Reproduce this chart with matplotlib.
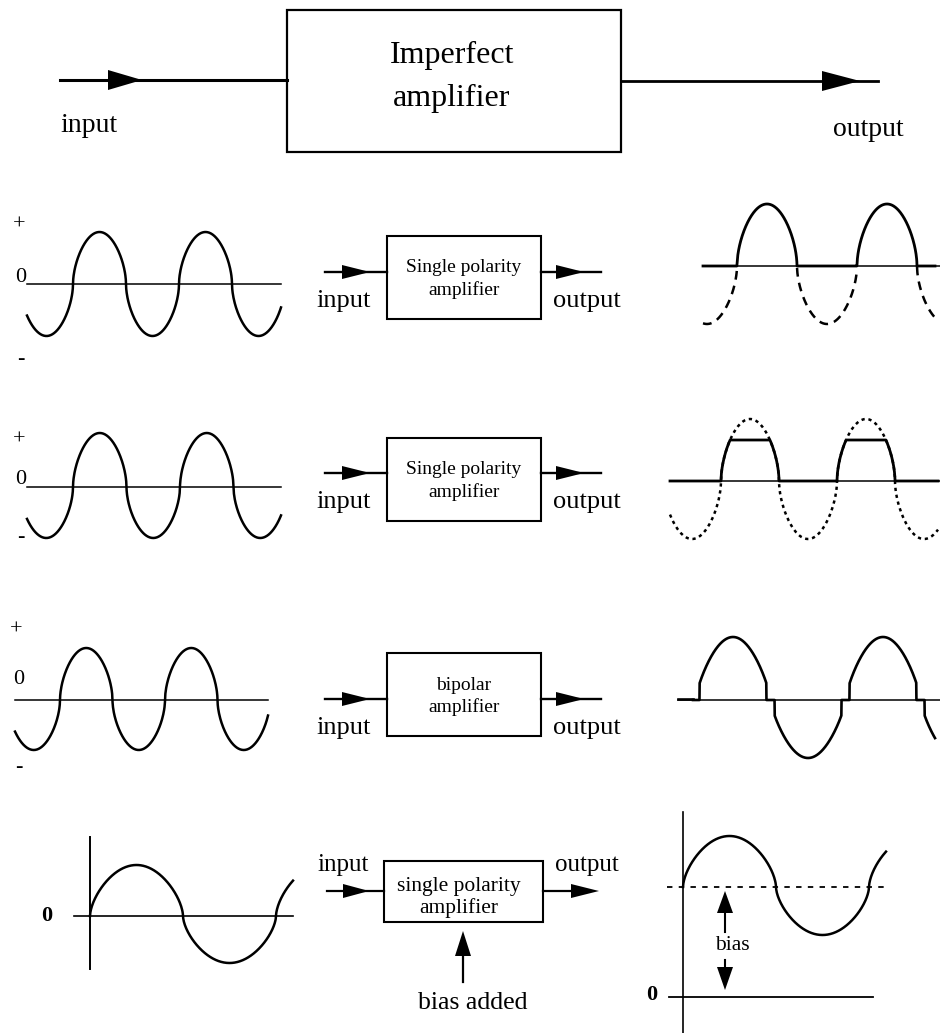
import numpy as np
import matplotlib
matplotlib.use('Agg')
import matplotlib.pyplot as plt
from matplotlib.patches import Rectangle

plt.rcParams['font.family'] = ['Liberation Serif', 'DejaVu Serif']

# ---- wave parameters (pixel units of the picture) ----
# input waves, rows 1-3 (left column)
in_zero = [284, 487, 700]
in_x0 = [27, 27, 15]
in_x1 = [281, 281, 268]
in_up = [73, 73, 60]          # first upward zero crossing
in_period = [106, 107, 105]
in_amp_up = [52, 54, 52]
in_amp_dn = [52, 51, 50]
in_labels = ['+', '0', '-']
in_label_y = [[225, 277, 360], [440, 480, 538], [630, 680, 767]]
in_label_x = [[19, 21, 21], [19, 21, 21], [16, 19, 19]]

# output waves, rows 1-3 (right column)
out_zero = [266, 481, 700]
out_axis = [(703, 940), (670, 940), (678, 940)]
out_x = [(703, 935), (670, 938), (693, 935)]
out_up = [737, 721, 695.5]
out_period = [120, 116, 150]
out_amp_up = [62, 62, 63]
out_amp_dn = [58, 58, 58]
clip_level = 41        # row 2 saturation
dead_zone = 0.17       # row 3 crossover

# boxes in rows 1-3
box_y = [236, 438, 653]
box_h = 83
box_text = [('Single polarity', 'amplifier'), ('Single polarity', 'amplifier'),
            ('bipolar', 'amplifier')]
arrow_y = [272, 473, 699]

# bias row (row 4)
bias_in_zero = 916
bias_out_zero = 887
bias_ground = 997
bias_period = 186
bias_amp = (51, 48)


def wave(x, x_up, period, amp_up, amp_dn, p=0.55):
    s = np.sin(2 * np.pi * (x - x_up) / period)
    v = np.sign(s) * np.abs(s) ** p
    return np.where(v > 0, v * amp_up, v * amp_dn)


def head(ax, tip, base, hw=8):
    tx, ty = tip
    bx, by = base
    dx, dy = tx - bx, ty - by
    n = np.hypot(dx, dy)
    px, py = -dy / n * hw, dx / n * hw
    ax.fill([tx, bx + px, bx - px], [ty, by + py, by - py], color='black', lw=0)


fig = plt.figure(figsize=(9.4, 10.33), dpi=100)
ax = fig.add_axes([0, 0, 1, 1])
ax.set_xlim(0, 940)
ax.set_ylim(1033, 0)
ax.axis('off')

# ---- top block diagram ----
ax.add_patch(Rectangle((287, 10), 334, 142, fill=False, lw=1.6, ec='black'))
ax.text(452, 55, 'Imperfect', fontsize=23, ha='center', va='center')
ax.text(452, 98, 'amplifier', fontsize=23, ha='center', va='center')
ax.plot([60, 287], [80, 80], color='black', lw=2.2)
head(ax, (142, 80), (108, 80), 10)
ax.plot([621, 878], [81, 81], color='black', lw=2.0)
head(ax, (860, 81), (822, 81), 10)
ax.text(60, 125, 'input', fontsize=20, ha='left', va='center')
ax.text(868, 129, 'output', fontsize=20, ha='center', va='center')

# ---- rows 1-3 ----
for i in range(3):
    # input wave
    x = np.linspace(in_x0[i], in_x1[i], 600)
    y = in_zero[i] - wave(x, in_up[i], in_period[i], in_amp_up[i], in_amp_dn[i])
    ax.plot([in_x0[i], in_x1[i]], [in_zero[i], in_zero[i]], color='black', lw=1.1)
    ax.plot(x, y, color='black', lw=1.8)
    for lab, lx, ly in zip(in_labels, in_label_x[i], in_label_y[i]):
        ax.text(lx, ly, lab, fontsize=16, ha='center', va='center')

    # amplifier box
    ax.add_patch(Rectangle((387, box_y[i]), 154, box_h, fill=False, lw=1.5, ec='black'))
    ax.text(464, box_y[i] + 32, box_text[i][0], fontsize=14, ha='center', va='center')
    ax.text(464, box_y[i] + 54, box_text[i][1], fontsize=14, ha='center', va='center')
    ay = arrow_y[i]
    ax.plot([325, 387], [ay, ay], color='black', lw=1.7)
    head(ax, (370, ay), (342, ay), 7)
    ax.plot([541, 601], [ay, ay], color='black', lw=1.7)
    head(ax, (584, ay), (556, ay), 7)
    ax.text(344, ay + 29, 'input', fontsize=19, ha='center', va='center')
    ax.text(587, ay + 29, 'output', fontsize=19, ha='center', va='center')

    # output wave
    z = out_zero[i]
    ax.plot(out_axis[i], [z, z], color='black', lw=1.1)
    x = np.linspace(out_x[i][0], out_x[i][1], 1200)
    if i == 0:
        w = wave(x, out_up[i], out_period[i], out_amp_up[i], out_amp_dn[i])
        ax.plot(x, z - np.where(w <= 0, w, np.nan), color='black', lw=1.8,
                ls=(0, (3.5, 2.5)))
        ax.plot(x, z - np.maximum(w, 0), color='black', lw=2.0)
    elif i == 1:
        w = wave(x, out_up[i], out_period[i], out_amp_up[i], out_amp_dn[i])
        ax.plot(x, z - w, color='black', lw=1.8, ls=(0, (1.3, 1.5)))
        ax.plot(x, z - np.clip(w, 0, clip_level), color='black', lw=2.0)
    else:
        s = np.sin(2 * np.pi * (x - out_up[i]) / out_period[i])
        v = np.where(np.abs(s) > dead_zone, np.sign(s) * np.abs(s) ** 0.75, 0)
        w = np.where(v > 0, v * out_amp_up[i], v * out_amp_dn[i])
        ax.plot(x, z - w, color='black', lw=1.9)
        ax.plot([out_axis[i][0], out_x[i][0]], [z - 1.5, z - 1.5], color='black', lw=1.9)

# ---- row 4: bias ----
x = np.linspace(90, 293, 600)
ax.plot([90, 90], [837, 969], color='black', lw=1.4)
ax.plot([74, 293], [bias_in_zero, bias_in_zero], color='black', lw=1.2)
ax.plot(x, bias_in_zero - wave(x, 90, bias_period, 51, 47, 0.6), color='black', lw=1.8)
ax.text(47, 916, '0', fontsize=16, fontweight='bold', ha='center', va='center')

ax.add_patch(Rectangle((384, 861), 159, 61, fill=False, lw=1.5, ec='black'))
ax.text(459, 886, 'single polarity', fontsize=15.5, ha='center', va='center')
ax.text(459, 908, 'amplifier', fontsize=15.5, ha='center', va='center')
ax.plot([327, 384], [891, 891], color='black', lw=1.6)
head(ax, (369, 891), (343, 891), 7)
ax.plot([543, 572], [891, 891], color='black', lw=1.6)
head(ax, (599, 891), (571, 891), 7)
ax.text(343, 865, 'input', fontsize=18, ha='center', va='center')
ax.text(587, 865, 'output', fontsize=18, ha='center', va='center')
ax.plot([463, 463], [955, 982], color='black', lw=1.6)
head(ax, (463, 931), (463, 956), 8)
ax.text(473, 1003, 'bias added', fontsize=18.5, ha='center', va='center')

x = np.linspace(683, 886, 600)
ax.plot([683, 683], [812, 1033], color='black', lw=1.2)
ax.plot([667, 886], [bias_out_zero, bias_out_zero], color='black', lw=1.3,
        ls=(0, (3, 3.5)))
ax.plot([669, 873], [bias_ground, bias_ground], color='black', lw=1.3)
ax.plot(x, bias_out_zero - wave(x, 683, bias_period, *bias_amp, 0.6), color='black', lw=1.8)
ax.plot([725, 725], [912, 932], color='black', lw=1.5)
head(ax, (725, 891), (725, 913), 8)
ax.plot([725, 725], [960, 968], color='black', lw=1.5)
head(ax, (725, 990), (725, 967), 8)
ax.text(732, 945, 'bias', fontsize=15.5, ha='center', va='center')
ax.text(652, 995, '0', fontsize=16, fontweight='bold', ha='center', va='center')

fig.savefig('out.png', dpi=100, facecolor='white')
